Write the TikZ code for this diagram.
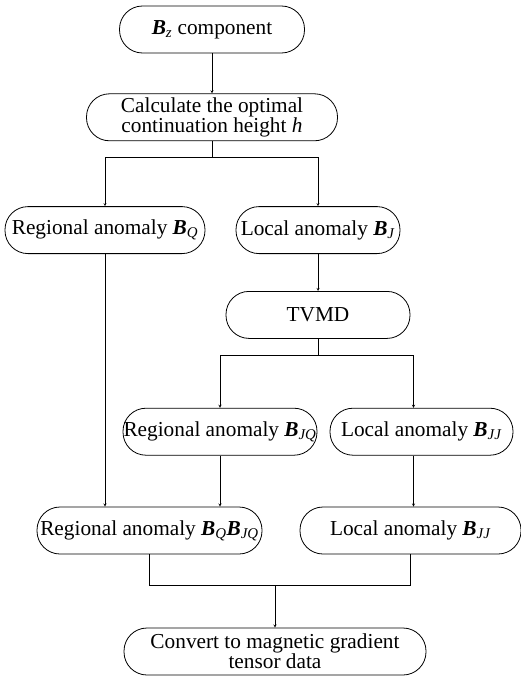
\documentclass[tikz,border=0pt]{standalone}
\usepackage{fontspec}
\setmainfont{Liberation Serif}
\usetikzlibrary{positioning}
\usetikzlibrary{shapes.geometric, arrows}
\tikzstyle{arrow} = [->,>=stealth]
\tikzstyle{pill} = [draw,thick,rounded corners=23pt,minimum height=47pt,inner sep=0pt,align=center,font=\fontsize{21.3}{17}\selectfont]
\newcommand{\vecB}[1]{\textbf{\textit{B}}\textsubscript{\textit{#1}}}

\begin{document}
\begin{tikzpicture}[x=1pt,y=1pt]
	\useasboundingbox (0,0) rectangle (521,-677);
	%Nodes
	\node (bz) [pill,minimum width=185pt] at (212,-29.5) {\vecB{z} component};
	\node (calc) [pill,minimum width=251pt,below=40pt of bz] {Calculate the optimal\\continuation height \textit{h}};
	
	\node (bq) [pill,minimum width=200pt,below=65pt of calc,xshift=-107pt] {Regional anomaly \vecB{Q}};
	\node (bj) [pill,minimum width=164pt,below=65pt of calc,xshift=106pt] {Local anomaly \vecB{J}};
	
	\node (tvmd) [pill,minimum width=184pt,below=37pt of bj] {TVMD};
	
	\node (bjq) [pill,minimum width=194pt,below=69pt of tvmd,xshift=-98pt] {Regional anomaly \vecB{JQ}};
	\node (bjj) [pill,minimum width=183pt,below=69pt of tvmd,xshift=103.5pt] {Local anomaly \vecB{JJ}};
	
	\node (bqjq) [pill,minimum width=225pt,below=51pt of bjq,xshift=-70.5pt] {Regional anomaly \vecB{Q}\vecB{JQ}};
	\node (bjj2) [pill,minimum width=221pt,below=51pt of bjj,xshift=-11pt] {Local anomaly \vecB{JJ}};
	
	\node (conv) [pill,minimum width=302pt] at (275,-651.5) {Convert to magnetic gradient\\tensor data};
	
	%Lines
	\draw[arrow] (bz) -- (calc);
	\draw[arrow] (calc.south) -- ++(0,-16pt) -| (bq.north);
	\draw[arrow] (calc.south) -- ++(0,-16pt) -| (bj.north);
	\draw[arrow] (bj) -- (tvmd);
	\draw[arrow] (tvmd.south) -- ++(0,-16pt) -| (bjq.north);
	\draw[arrow] (tvmd.south) -- ++(0,-16pt) -| ([xshift=-8pt]bjj.north);
	
	\draw[arrow] (bq.south) -- (bq.south |- bqjq.north);
	\draw[arrow] (bjq.south) -- (bjq.south |- bqjq.north);
	\draw[arrow] ([xshift=-8pt]bjj.south) -- ([xshift=-8pt]bjj.south |- bjj2.north);
	
	\draw (bqjq.south) |- ([yshift=42pt]conv.north) -| (bjj2.south);
	\draw[arrow] ([yshift=42pt]conv.north) -- (conv.north);
\end{tikzpicture}
\end{document}
